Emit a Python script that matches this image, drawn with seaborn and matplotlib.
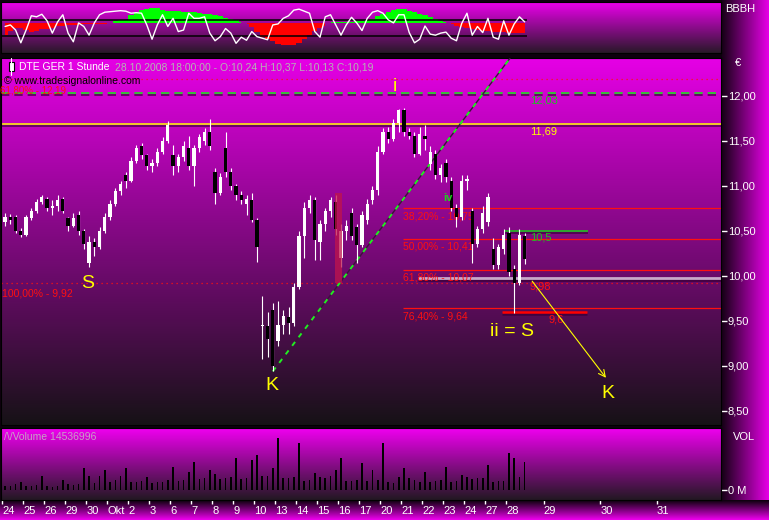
import numpy as np
import pandas as pd
import seaborn as sns
import matplotlib.pyplot as plt
import matplotlib.patheffects as pe
from matplotlib.colors import LinearSegmentedColormap
from matplotlib.patches import Rectangle
from matplotlib.lines import Line2D

# trading days on the time axis, then the empty days ahead
day_labels = ['24', '25', '26', '29', '30', 'Okt', '2', '3', '6', '7', '8', '9', '10',
              '13', '14', '15', '16', '17', '20', '21', '22', '23', '24', '27', '28']
future_labels = ['29', '30', '31']
bars_per_day = 4

opens = [10.60, 10.66, 10.66, 10.50, 10.46, 10.64, 10.72, 10.82, 10.86, 10.76,
         10.78, 10.86, 10.64, 10.56, 10.68, 10.50, 10.14, 10.38, 10.32, 10.50,
         10.66, 10.80, 10.94, 11.12, 11.06, 11.28, 11.44, 11.34, 11.22, 11.26,
         11.38, 11.50, 11.34, 11.22, 11.32, 11.42, 11.22, 11.42, 11.50, 11.60,
         11.16, 10.92, 11.42, 11.16, 11.00, 10.90, 10.80, 10.84, 10.62, 9.44,
         9.44, 9.62, 9.28, 9.46, 9.54, 9.48, 9.88, 10.44, 10.76, 10.84,
         10.38, 10.58, 10.72, 10.82, 10.20, 10.50, 10.70, 10.54, 10.34, 10.62,
         10.84, 10.96, 11.38, 11.60, 11.52, 11.70, 11.84, 11.60, 11.56, 11.36,
         11.56, 11.24, 11.36, 11.12, 11.26, 11.06, 10.76, 10.66, 11.06, 10.72,
         10.36, 10.52, 10.60, 10.30, 10.12, 10.30, 10.48, 10.08, 9.92, 10.44]
highs = [10.70, 10.69, 10.68, 10.53, 10.68, 10.76, 10.86, 10.90, 10.88, 10.84,
         10.90, 10.88, 10.66, 10.70, 10.72, 10.52, 10.44, 10.42, 10.54, 10.70,
         10.84, 10.98, 11.06, 11.16, 11.32, 11.46, 11.48, 11.36, 11.30, 11.42,
         11.54, 11.72, 11.46, 11.36, 11.50, 11.56, 11.46, 11.58, 11.64, 11.74,
         11.20, 11.14, 11.60, 11.20, 11.02, 10.94, 10.90, 10.92, 10.64, 9.78,
         9.60, 9.70, 9.72, 9.62, 9.66, 9.92, 10.50, 10.82, 10.90, 10.88,
         10.62, 10.76, 10.88, 10.90, 10.58, 10.62, 10.76, 10.58, 10.72, 10.86,
         11.00, 11.44, 11.64, 11.66, 11.74, 11.86, 11.87, 11.64, 11.60, 11.66,
         11.68, 11.44, 11.40, 11.24, 11.30, 11.10, 10.80, 11.12, 11.12, 10.76,
         10.56, 10.78, 10.92, 10.42, 10.36, 10.52, 10.54, 10.12, 10.52, 10.48]
lows = [10.56, 10.58, 10.48, 10.43, 10.44, 10.62, 10.70, 10.80, 10.72, 10.68,
        10.72, 10.70, 10.50, 10.54, 10.46, 10.30, 10.10, 10.22, 10.30, 10.48,
        10.62, 10.78, 10.90, 10.98, 11.04, 11.26, 11.30, 11.18, 11.16, 11.22,
        11.36, 11.48, 11.12, 11.16, 11.28, 11.18, 11.00, 11.38, 11.46, 11.40,
        10.80, 10.90, 11.10, 10.96, 10.84, 10.80, 10.68, 10.60, 10.16, 9.08,
        9.10, 8.94, 9.22, 9.36, 9.36, 9.44, 9.86, 10.20, 10.70, 10.18,
        10.18, 10.50, 10.66, 10.46, 10.10, 10.40, 10.40, 10.14, 10.32, 10.58,
        10.80, 10.90, 11.36, 11.48, 11.50, 11.60, 11.56, 11.52, 11.32, 11.34,
        11.40, 11.18, 11.08, 11.04, 11.04, 10.72, 10.54, 10.62, 10.96, 10.14,
        10.32, 10.48, 10.56, 10.08, 10.08, 10.24, 10.00, 9.59, 9.90, 10.13]
closes = [10.66, 10.62, 10.50, 10.46, 10.66, 10.72, 10.82, 10.88, 10.76, 10.78,
          10.84, 10.72, 10.56, 10.64, 10.50, 10.36, 10.38, 10.32, 10.50, 10.66,
          10.80, 10.94, 11.02, 11.06, 11.28, 11.42, 11.34, 11.22, 11.26, 11.38,
          11.50, 11.68, 11.22, 11.32, 11.44, 11.22, 11.42, 11.54, 11.60, 11.44,
          10.92, 11.10, 11.16, 11.00, 10.90, 10.84, 10.86, 10.62, 10.32, 9.46,
          9.30, 9.00, 9.46, 9.56, 9.48, 9.88, 10.44, 10.76, 10.84, 10.40,
          10.58, 10.72, 10.84, 10.52, 10.50, 10.56, 10.44, 10.34, 10.68, 10.80,
          10.96, 11.38, 11.60, 11.52, 11.70, 11.84, 11.60, 11.56, 11.36, 11.58,
          11.52, 11.38, 11.12, 11.20, 11.10, 10.76, 10.66, 11.06, 11.08, 10.36,
          10.52, 10.70, 10.88, 10.12, 10.32, 10.46, 10.04, 9.92, 10.46, 10.19]

# volume in millions
volume = [2.0, 2.0, 3.0, 4.0, 2.0, 2.0, 2.5, 7.0, 2.0, 1.5,
          2.0, 5.0, 3.0, 2.5, 3.0, 11.0, 7.0, 3.5, 7.0, 10.0,
          4.0, 5.0, 7.0, 11.0, 4.0, 4.0, 4.5, 6.5, 3.5, 4.0,
          4.0, 5.0, 11.5, 4.5, 5.0, 9.0, 14.0, 5.5, 6.0, 10.0,
          8.0, 5.5, 6.0, 6.5, 16.0, 5.5, 6.0, 15.0, 17.5, 7.0,
          7.0, 11.0, 26.0, 6.0, 6.0, 6.5, 23.5, 4.5, 5.0, 8.5,
          6.5, 6.0, 7.0, 10.0, 16.0, 4.5, 4.5, 5.0, 13.5, 4.5,
          10.0, 5.0, 23.5, 4.0, 3.5, 6.5, 11.0, 6.0, 5.0, 4.0,
          9.0, 4.0, 4.5, 5.0, 11.5, 4.0, 4.5, 7.5, 6.5, 5.5,
          6.0, 6.0, 12.5, 4.0, 4.5, 4.5, 18.5, 16.0, 6.5, 14.0]

# upper indicator: oscillator line (0-100) and its histogram
osc = [52, 55, 45, 20, 45, 73, 71, 76, 63, 39,
       61, 75, 39, 22, 59, 52, 35, 59, 75, 80,
       81, 82, 83, 82, 78, 79, 78, 55, 27, 55,
       75, 52, 68, 42, 45, 78, 68, 68, 71, 39,
       24, 32, 48, 39, 19, 31, 25, 42, 32, 29,
       26, 55, 57, 68, 73, 84, 86, 82, 78, 42,
       31, 71, 75, 55, 35, 55, 70, 59, 44, 68,
       80, 83, 78, 65, 59, 75, 75, 40, 20, 27,
       53, 37, 35, 39, 41, 29, 24, 58, 78, 35,
       52, 40, 68, 31, 27, 63, 35, 57, 71, 61]
osc_hist = [-12, -8, -5, -5, -7, -9, -8, -6, -6, -5,
            -3, -3, -2, -2, -2, -1, -1, -1, -1, -1,
            0, 2, 3, 3, 8, 11, 13, 14, 15, 15,
            13, 12, 12, 12, 11, 11, 11, 10, 9, 9,
            8, 7, 5, 4, 3, 1, -1, -4, -9, -14,
            -16, -18, -21, -22, -22, -22, -20, -16, -12, -8,
            -5, -3, 1, 1, 1, 1, 1, 2, 2, 3,
            4, 7, 9, 11, 13, 14, 14, 12, 11, 9,
            8, 6, 4, 2, 1, -1, -3, -4, -5, -6,
            -7, -8, -8, -9, -9, -9, -10, -10, -10, -10]
osc_levels = [64.7, 33.3]

# drawn levels
fib_levels = [10.75, 10.41, 10.07, 9.64]
fib_labels = ['38,20% - 10,75', '50,00% - 10,41', '61,80% - 10,07', '76,40% - 9,64']
fib_full = [(12.19, '61,80% - 12,19'), (9.92, '100,00% - 9,92')]

df = pd.DataFrame({'o': opens, 'h': highs, 'l': lows, 'c': closes,
                   'vol': volume, 'osc': osc, 'hist': osc_hist})
df['bar'] = np.arange(len(df))

sns.set_theme(style='dark')
plt.rcParams['font.family'] = ['Liberation Sans', 'DejaVu Sans']

W, H = 769, 520
fig = plt.figure(figsize=(W / 100, H / 100), dpi=100)
fig.patch.set_facecolor('#0e000e')


def rect(x0, y0, x1, y1):
    return [x0 / W, 1 - y1 / H, (x1 - x0) / W, (y1 - y0) / H]


def fpos(x, y):
    return x / W, 1 - y / H


def gradient(a, c0, c1, horizontal=False):
    cmap = LinearSegmentedColormap.from_list('g', [c0, c1])
    g = np.linspace(0, 1, 256)
    g = g.reshape(1, -1) if horizontal else g.reshape(-1, 1)
    a.imshow(g, cmap=cmap, aspect='auto', extent=[0, 1, 0, 1],
             transform=a.transAxes, zorder=0, interpolation='bilinear')


ax_side = fig.add_axes(rect(722, 0, 769, 500), zorder=-2)
ax_bot = fig.add_axes(rect(0, 500, 769, 520), zorder=-2)
ax_osc = fig.add_axes(rect(1, 2, 721, 53))
ax = fig.add_axes(rect(1, 58, 721, 425))
ax_vol = fig.add_axes(rect(1, 428, 721, 500))

gradient(ax_side, '#160016', '#e800e8', horizontal=True)
gradient(ax_bot, '#0a000a', '#f000f0')
for a in (ax_side, ax_bot):
    a.set_axis_off()

xlim = (-0.78, 136.4)
shadow = [pe.SimpleLineShadow(offset=(0, -1.4), shadow_color='#3a003a', alpha=0.8), pe.Normal()]

# ---- upper oscillator panel
gradient(ax_osc, '#ec00ec', '#281828')
base = 58.8
scale = 1.961
hv = base + df['hist'] * scale
ax_osc.fill_between(df['bar'], base, hv, where=df['hist'] >= 0, step='mid',
                    color='#00ff00', lw=0, zorder=2)
ax_osc.fill_between(df['bar'], base, hv, where=df['hist'] <= 0, step='mid',
                    color='#ff0000', lw=0, zorder=2)
ax_osc.hlines(osc_levels, -0.5, len(df) - 0.5, color='black', lw=1.1, zorder=3)
sns.lineplot(data=df, x='bar', y='osc', ax=ax_osc, color='white', lw=1.0, zorder=4)
ax_osc.set_xlim(*xlim)
ax_osc.set_ylim(0, 100)
ax_osc.set_xticks([])
ax_osc.set_yticks([])
ax_osc.set_xlabel('')
ax_osc.set_ylabel('')

# ---- price panel
gradient(ax, '#e600e6', '#161216')
for lvl, lab in fib_full:
    ax.axhline(lvl, color='#ff1010', ls=(0, (1, 3)), lw=0.9, zorder=2)
ax.axhline(12.03, color='#20dd20', ls=(0, (5, 3)), lw=1.2, zorder=2, path_effects=shadow)
ax.axhline(11.69, color='#ffff00', lw=1.1, zorder=2, path_effects=shadow)
ax.hlines(fib_levels, 75.8, xlim[1], color='#ff1010', lw=0.9, zorder=2)
ax.hlines(9.98, 78.6, xlim[1], color='#c8a8c8', lw=2.0, zorder=2, path_effects=shadow)
ax.hlines(10.5, 95.2, 111, color='#20c020', lw=1.2, zorder=2, path_effects=shadow)
ax.hlines(9.6, 94.6, 110.8, color='#ff0000', lw=1.8, zorder=2, path_effects=shadow)

for lvl, lab in zip(fib_levels, fib_labels):
    ax.text(75.8, lvl - 0.03, lab, color='#ff1010', fontsize=7.5, va='top', ha='left', zorder=2)
ax.text(100, 12.03 - 0.03, '12,03', color='#20c020', fontsize=8, va='top', zorder=2)
ax.text(100, 11.69 - 0.03, '11,69', color='#ffff00', fontsize=8, va='top', zorder=2)
ax.text(100, 10.5 - 0.02, '10,5', color='#20c020', fontsize=8, va='top', zorder=2)
ax.text(100, 9.98 - 0.04, '9,98', color='#ff1010', fontsize=8, va='top', zorder=2)
ax.text(103.6, 9.6 - 0.03, '9,6', color='#ff1010', fontsize=8, va='top', zorder=2)

# trend line from the K low
ax.plot([51, 96.2], [8.94, 12.42], color='#3c143c', lw=1.0, zorder=3)
ax.plot([51, 96.2], [8.94, 12.42], color='#22ee22', lw=1.4, ls=(0, (2.5, 3)), zorder=3)

# candles
up = df['c'] >= df['o']
ax.vlines(df['bar'], df['l'], df['h'], color='white', lw=0.8, zorder=4)
ax.bar(df['bar'], np.maximum((df['c'] - df['o']).abs(), 0.012),
       bottom=np.minimum(df['o'], df['c']), width=0.62,
       color=np.where(up, 'white', 'black'), lw=0, zorder=5)

ax.add_patch(Rectangle((62.8, 9.92), 1.4, 1.0, color='#c0144c', alpha=0.75, lw=0, zorder=6))

ax.annotate('', xy=(114.8, 8.844), xytext=(100.1, 9.967),
            arrowprops=dict(arrowstyle='->', color='#ffff00', lw=0.8, mutation_scale=12), zorder=7)

wave = dict(color='#ffff00', fontsize=14, ha='center', va='center', zorder=8)
ax.text(15.8, 9.92, 'S', **wave)
ax.text(50.8, 8.78, 'K', **wave)
ax.text(114.8, 8.69, 'K', **wave)
ax.text(74.3, 12.11, 'i', **wave)
ax.text(96.6, 9.38, 'ii = S', **wave)
ax.text(84.4, 10.87, 'iv', color='#20d020', fontsize=8, fontweight='bold',
        ha='center', va='center', zorder=8)

ax.set_xlim(*xlim)
ax.set_ylim(8.344, 12.422)
ax.set_xticks([])
ax.yaxis.tick_right()
ticks = np.arange(8.5, 12.01, 0.5)
ax.set_yticks(ticks)
ax.set_yticklabels([f'{t:.2f}'.replace('.', ',') for t in ticks])
ax.tick_params(axis='y', right=True, colors='white', length=4, width=1, pad=1, labelsize=8)
ax.set_xlabel('')
ax.set_ylabel('')

# ---- volume panel
gradient(ax_vol, '#f000f0', '#221822')
sns.barplot(data=df, x='bar', y='vol', native_scale=True, width=0.3, color='black',
            saturation=1, errorbar=None, linewidth=0, edgecolor='black', ax=ax_vol, zorder=3)
ax_vol.set_xlim(*xlim)
ax_vol.set_ylim(-5, 31)
ax_vol.yaxis.tick_right()
ax_vol.set_yticks([0])
ax_vol.set_yticklabels(['0 M'])
ax_vol.tick_params(axis='y', right=True, colors='white', length=4, width=1, pad=1, labelsize=8)
day_ticks = [bars_per_day * k - 0.5 for k in range(len(day_labels))]
fut_first, fut_step = 102.6, 10.8
day_ticks += [fut_first + fut_step * k for k in range(len(future_labels))]
ax_vol.set_xticks(day_ticks)
ax_vol.set_xticklabels(day_labels + future_labels, ha='left')
ax_vol.tick_params(axis='x', bottom=True, colors='white', length=3, width=1, pad=1, labelsize=8)
ax_vol.set_xlabel('')
ax_vol.set_ylabel('')

for a in (ax_osc, ax, ax_vol):
    for s in a.spines.values():
        s.set_color('black')
        s.set_linewidth(0.8)

# ---- header texts
fig.add_artist(Line2D([11 / W, 11 / W], [1 - 58 / H, 1 - 75 / H], color='white', lw=0.8))
fig.add_artist(Rectangle(fpos(8.5, 71), 5 / W, 9 / H, fc='white', ec='black', lw=0.8))
fig.text(*fpos(19, 67), 'DTE GER 1 Stunde', color='white', fontsize=7.5, va='center')
fig.text(*fpos(115, 67), '28.10.2008 18:00:00 - O:10,24 H:10,37 L:10,13 C:10,19',
         color='#b4b4b4', fontsize=7.5, va='center')
fig.text(*fpos(4, 81), '\u00a9 www.tradesignalonline.com', color='black', fontsize=7.5, va='center')
fig.text(*fpos(0, 90.5), fib_full[0][1], color='#ff1010', fontsize=7, va='center')
fig.text(*fpos(2, 293), fib_full[1][1], color='#ff1010', fontsize=7.5, va='center')
fig.text(*fpos(4, 437), '/\\/Volume 14536996', color='#c8a0c8', fontsize=7.5, va='center')
fig.text(*fpos(735, 63), '\u20ac', color='white', fontsize=8, va='center')
fig.text(*fpos(725, 9), 'BBBH', color='white', fontsize=8, va='center')
fig.text(*fpos(733, 437), 'VOL', color='white', fontsize=8, va='center')

fig.savefig('out.png', dpi=100, facecolor=fig.get_facecolor())
